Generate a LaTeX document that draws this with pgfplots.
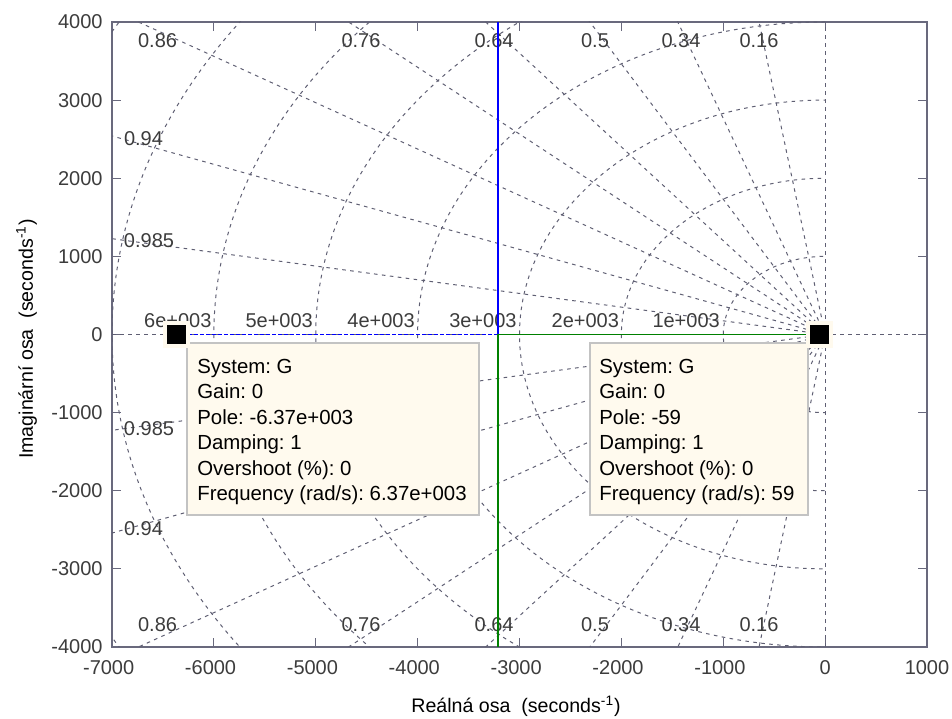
\documentclass[border=0pt]{standalone}
\usepackage{fontspec}
\setmainfont{Liberation Sans}
\usepackage{pgfplots}
\pgfplotsset{compat=1.18}

\definecolor{framec}{RGB}{105,105,125}
\definecolor{gridc}{RGB}{95,95,115}
\definecolor{tipfill}{RGB}{255,250,238}
\definecolor{tipedge}{RGB}{195,195,195}
\definecolor{locblue}{RGB}{0,0,255}
\definecolor{locgreen}{RGB}{0,128,0}
\definecolor{labc}{RGB}{60,60,60}

\newcommand\tipfont{\fontsize{10.2}{12.75}\selectfont}
\newcommand\lblfont{\fontsize{10}{12}\selectfont}

\tikzset{
  grid line/.style={color=gridc, line width=0.5pt, dash pattern=on 1.8pt off 2.2pt},
  zlab/.style={font=\lblfont, text=labc, inner sep=0pt},
}

\begin{document}
\frenchspacing
\begin{tikzpicture}
\path[use as bounding box] (-56pt,-35.5pt) rectangle (420pt,323.5pt);
\begin{axis}[
  at={(0,0)}, anchor=south west,
  scale only axis, width=407.5pt, height=312.5pt,
  xmin=-7000, xmax=1000, ymin=-4000, ymax=4000,
  xtick={-7000,-6000,...,1000}, ytick={-4000,-3000,...,4000},
  xticklabels={\llap{-}7000,\llap{-}6000,\llap{-}5000,\llap{-}4000,\llap{-}3000,\llap{-}2000,\llap{-}1000,0,1000},
  yticklabels={-4000,-3000,-2000,-1000,0,1000,2000,3000,4000},
  tick align=inside, major tick length=4.5pt,
  tick style={color=framec, line width=0.6pt},
  axis line style={color=framec, line width=0.75pt},
  xticklabel style={font=\lblfont, text=labc, inner sep=0pt, anchor=north, yshift=-6.5pt},
  yticklabel style={font=\lblfont, text=labc, inner sep=0pt, anchor=east, xshift=-4.5pt},
]
% constant-damping rays (upper and lower half plane)
\addplot[grid line] coordinates {(-1440,8884) (0,0) (-1440,-8884)};   % 0.16
\addplot[grid line] coordinates {(-3060,8464) (0,0) (-3060,-8464)};   % 0.34
\addplot[grid line] coordinates {(-4500,7794) (0,0) (-4500,-7794)};   % 0.5
\addplot[grid line] coordinates {(-5760,6915) (0,0) (-5760,-6915)};   % 0.64
\addplot[grid line] coordinates {(-6840,5849) (0,0) (-6840,-5849)};   % 0.76
\addplot[grid line] coordinates {(-7740,4593) (0,0) (-7740,-4593)};   % 0.86
\addplot[grid line] coordinates {(-8460,3071) (0,0) (-8460,-3071)};   % 0.94
\addplot[grid line] coordinates {(-8865,1553) (0,0) (-8865,-1553)};   % 0.985
% real and imaginary axes
\addplot[grid line] coordinates {(-7000,0) (1000,0)};
\addplot[grid line] coordinates {(0,-4000) (0,4000)};
% constant natural-frequency arcs, left half plane only
\begin{scope}
  \clip (axis cs:-7000,-4000) rectangle (axis cs:0,4000);
  \draw[grid line] (axis cs:0,0) ellipse [x radius=1000, y radius=1000];
  \draw[grid line] (axis cs:0,0) ellipse [x radius=2000, y radius=2000];
  \draw[grid line] (axis cs:0,0) ellipse [x radius=3000, y radius=3000];
  \draw[grid line] (axis cs:0,0) ellipse [x radius=4000, y radius=4000];
  \draw[grid line] (axis cs:0,0) ellipse [x radius=5000, y radius=5000];
  \draw[grid line] (axis cs:0,0) ellipse [x radius=6000, y radius=6000];
  \draw[grid line] (axis cs:0,0) ellipse [x radius=7000, y radius=7000];
  \draw[grid line] (axis cs:0,0) ellipse [x radius=8000, y radius=8000];
\end{scope}
% damping labels
\node[zlab] at (axis cs:-6553,3763) {0.86};
\node[zlab] at (axis cs:-4556,3763) {0.76};
\node[zlab] at (axis cs:-3250,3763) {0.64};
\node[zlab] at (axis cs:-2259,3763) {0.5};
\node[zlab] at (axis cs:-1415,3763) {0.34};
\node[zlab] at (axis cs:-649,3763) {0.16};
\node[zlab] at (axis cs:-6691,2502) {0.94};
\node[zlab] at (axis cs:-6637,1208) {0.985};
\node[zlab] at (axis cs:-6637,-1203) {0.985};
\node[zlab] at (axis cs:-6691,-2490) {0.94};
\node[zlab] at (axis cs:-6553,-3712) {0.86};
\node[zlab] at (axis cs:-4556,-3712) {0.76};
\node[zlab] at (axis cs:-3250,-3712) {0.64};
\node[zlab] at (axis cs:-2259,-3712) {0.5};
\node[zlab] at (axis cs:-1415,-3712) {0.34};
\node[zlab] at (axis cs:-649,-3712) {0.16};
% natural-frequency labels
\node[zlab, anchor=east] at (axis cs:-6020,179) {6e+003};
\node[zlab, anchor=east] at (axis cs:-5025,179) {5e+003};
\node[zlab, anchor=east] at (axis cs:-4025,179) {4e+003};
\node[zlab, anchor=east] at (axis cs:-3025,179) {3e+003};
\node[zlab, anchor=east] at (axis cs:-2020,179) {2e+003};
\node[zlab, anchor=east] at (axis cs:-1030,179) {1e+003};
% root locus branches
\addplot[locblue, line width=0.9pt, dash pattern=on 2pt off 1pt] coordinates {(-6370,0) (-3214.5,0)};
\addplot[locblue, line width=0.9pt] coordinates {(-3214.5,0) (-3214.5,4000)};
\addplot[locgreen, line width=0.9pt] coordinates {(-59,0) (-3214.5,0) (-3214.5,-4000)};
% data tips
\draw[fill=tipfill, draw=tipedge, line width=0.9pt] (axis cs:-6264,-109) rectangle (axis cs:-3398,-2310);
\draw[fill=tipfill, draw=tipedge, line width=0.9pt] (axis cs:-2308,-109) rectangle (axis cs:-168,-2310);
\node[anchor=base west, inner sep=0pt, font=\tipfont] at (axis cs:-6166,-493)
  {\begin{tabular}[t]{@{}l@{}}System: G\\ Gain: 0\\ Pole: -6.37e+003\\ Damping: 1\\ Overshoot (\%): 0\\ Frequency (rad/s): 6.37e+003\end{tabular}};
\node[anchor=base west, inner sep=0pt, font=\tipfont] at (axis cs:-2220,-493)
  {\begin{tabular}[t]{@{}l@{}}System: G\\ Gain: 0\\ Pole: -59\\ Damping: 1\\ Overshoot (\%): 0\\ Frequency (rad/s): 59\end{tabular}};
% open-loop poles
\addplot[only marks, tipfill, mark=square*, mark size=6.5pt, mark options={fill=tipfill, draw=tipfill}] coordinates {(-6370,0) (-59,0)};
\addplot[only marks, black, mark=square*, mark size=4.5pt, mark options={fill=black, draw=black}] coordinates {(-6370,0) (-59,0)};
\end{axis}
\node[anchor=base, font=\fontsize{9.8}{12}\selectfont] at (202pt,-32.85pt) {Reálná osa\ \ (seconds\textsuperscript{-1})};
\node[rotate=90, anchor=base, font=\fontsize{9.8}{12}\selectfont] at (-39.5pt,154pt) {Imaginární osa\ \ (seconds\textsuperscript{-1})};
\end{tikzpicture}
\end{document}
